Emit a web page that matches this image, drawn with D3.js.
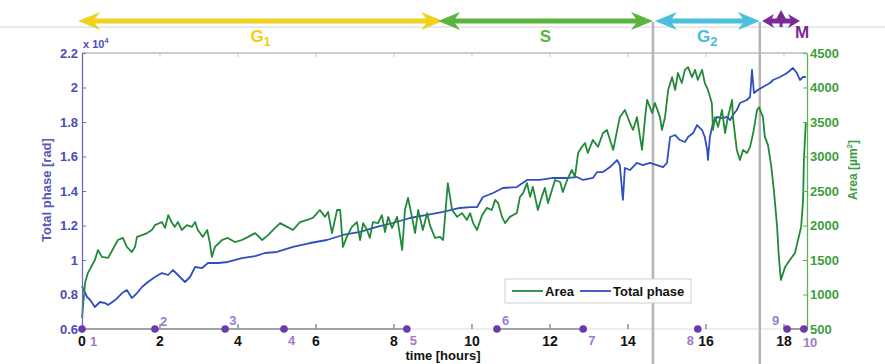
<!DOCTYPE html>
<html>
<head>
<meta charset="utf-8">
<script src="https://cdn.jsdelivr.net/npm/d3@7/dist/d3.min.js"></script>
<style>
  body { margin: 0; background: #fff; }
  text { font-family: "Liberation Sans", Arial, sans-serif; }
</style>
</head>
<body>
<svg id="chart" width="885" height="364"></svg>
<script>
// time [hours] / area [um^2]
const areaTime = [
  0,0.08,0.15,0.33,0.41,0.51,0.67,0.92,1.05,1.15,
  1.28,1.36,1.41,1.54,1.67,1.79,1.87,2.05,2.13,2.21,
  2.31,2.38,2.46,2.56,2.69,2.82,2.90,2.97,3.10,3.21,
  3.28,3.33,3.41,3.59,3.74,3.92,4.10,4.26,4.44,4.62,
  4.77,4.90,5.08,5.26,5.41,5.59,5.77,5.92,6.10,6.23,
  6.31,6.41,6.54,6.62,6.69,6.79,6.92,7.05,7.13,7.21,
  7.31,7.38,7.46,7.59,7.69,7.77,7.85,7.95,8.08,8.21,
  8.28,8.36,8.46,8.54,8.62,8.74,8.85,8.92,9.05,9.18,
  9.26,9.38,9.49,9.62,9.74,9.87,9.95,10.03,10.13,10.26,
  10.38,10.51,10.59,10.67,10.77,10.85,10.97,11.15,11.23,11.31,
  11.41,11.49,11.56,11.69,11.79,11.87,11.95,12.05,12.13,12.26,
  12.33,12.44,12.56,12.64,12.72,12.82,12.90,12.97,13.10,13.23,
  13.36,13.46,13.62,13.79,13.92,14.05,14.13,14.23,14.36,14.44,
  14.49,14.62,14.69,14.82,14.87,14.95,15.03,15.13,15.21,15.28,
  15.38,15.46,15.54,15.64,15.72,15.79,15.90,15.97,16.05,16.15,
  16.18,16.23,16.31,16.41,16.49,16.56,16.67,16.69,16.79,16.87,
  16.95,17.05,17.13,17.21,17.31,17.36,17.46,17.51,17.59,17.67,
  17.74,17.82,17.87,17.92,18.03,18.15,18.28,18.36,18.44,18.49,
  18.51,18.56
];
const areaValues = [
  660,1170,1310,1500,1645,1545,1530,1790,1820,1690,
  1615,1690,1835,1860,1890,1935,2005,2050,1965,2150,
  2035,1980,2050,1935,2005,1980,2050,1935,1835,1935,
  1745,1545,1690,1790,1820,1760,1790,1835,1890,1790,
  1860,1935,2035,1980,1935,2050,2080,2110,2225,2125,
  2195,1890,2225,2225,1690,1835,1980,2050,1790,2035,
  1935,1820,2050,2035,2150,1905,2125,1965,2125,1645,
  2225,2400,2125,1890,2225,1935,2180,2005,1820,1835,
  1790,2615,2225,2125,2180,2080,2180,2035,1935,2150,
  2255,2225,2370,2325,2125,2035,2125,2180,2415,2470,
  2615,2415,2560,2225,2415,2545,2325,2515,2660,2630,
  2485,2660,2805,2705,3050,3140,3195,3050,3240,3140,
  3340,3385,3095,3570,3675,3485,3385,3570,3095,3570,
  3820,3630,3775,3570,3385,3570,3965,4150,3965,4210,
  4065,4255,4295,4150,4255,4110,4255,4065,3965,3775,
  3385,3570,3430,3675,3340,3570,3820,3570,3095,2950,
  3095,3050,3140,3340,3675,3715,3570,3285,3165,2875,
  2515,2005,1530,1210,1400,1500,1600,1790,1980,2370,
  2950,3500
];

// time [hours] / total phase [rad]
const phaseTime = [
  0,0.13,0.21,0.33,0.46,0.59,0.67,0.85,1.03,1.15,
  1.28,1.41,1.54,1.69,1.87,2.05,2.21,2.33,2.46,2.64,
  2.77,2.90,3.08,3.23,3.49,3.74,4.10,4.44,4.69,5.00,
  5.41,5.85,6.28,6.69,7.13,7.56,7.97,8.41,8.85,9.26,
  9.69,9.95,10.13,10.28,10.54,10.79,11.15,11.41,11.74,12.08,
  12.44,12.69,12.85,13.10,13.21,13.36,13.54,13.72,13.79,13.87,
  13.92,14.05,14.23,14.38,14.56,14.74,14.90,15.00,15.08,15.21,
  15.33,15.46,15.54,15.67,15.77,15.90,15.97,16.03,16.05,16.10,
  16.18,16.28,16.41,16.54,16.62,16.69,16.79,16.87,17.05,17.13,
  17.18,17.23,17.33,17.46,17.64,17.72,17.90,18.08,18.23,18.33,
  18.41,18.49,18.56
];
const phaseValues = [
  8490,7855,7680,7275,7565,7505,7390,7680,8085,8260,
  7795,8085,8435,8725,9015,9245,9130,9420,9130,8725,
  9015,9595,9535,9825,9825,9885,10115,10230,10405,10465,
  10755,10985,11160,11450,11625,11915,12145,12435,12610,12785,
  13015,13070,13070,13650,13885,14175,14230,14640,14640,14755,
  14755,14810,14640,14755,15100,15100,15390,15795,15505,13480,
  15335,15215,15625,15505,15625,15505,15390,15625,17130,17245,
  16955,16840,17130,17360,17825,17535,17130,16375,15795,17130,
  17940,18290,18230,18290,18115,18405,18695,19100,19275,19450,
  21015,19680,19855,20030,20260,20435,20610,20840,21130,20840,
  20435,20610,20610
];

// tick values
const timeTicks = [0, 2, 4, 6, 8, 10, 12, 14, 16, 18];
const phaseTicks = [6000, 8000, 10000, 12000, 14000, 16000, 18000, 20000, 22000];
const areaTicks = [500, 1000, 1500, 2000, 2500, 3000, 3500, 4000, 4500];

// cell cycle phases (arrows on top)
const cycleNames = ["G", "S", "G", "M"];
const cycleSubs = ["1", "", "2", ""];
const cycleStart = [-0.1, 9.13, 14.69, 17.44];
const cycleEnd = [9.26, 14.64, 17.38, 18.41];
const cycleBorders = [14.64, 17.38];

// numbered time points
const markerTime = [0, 1.87, 3.67, 5.18, 8.33, 10.64, 12.85, 15.79, 18.08, 18.51];
const markerLabels = ["1", "2", "3", "4", "5", "6", "7", "8", "9", "10"];

const svg = d3.select("#chart");
const W = 885, H = 364;
const plotL = 82, plotR = 807, plotT = 53, plotB = 329;

const green = "#23893a", blue = "#2f4fc0", purple = "#6c3aa8";
const cycleColors = ["#efd21e", "#5bb43c", "#4bc0da", "#7a2a96"];
const cycleText = ["#f0cf10", "#5bb43c", "#45bddb", "#7a2a96"];

const x = d3.scaleLinear().domain([0, 18.59]).range([plotL, plotR]);
const yL = d3.scaleLinear().domain([6000, 22000]).range([plotB, plotT]);
const yR = d3.scaleLinear().domain([500, 4500]).range([plotB, plotT]);

svg.append("rect").attr("width", W).attr("height", H).attr("fill", "#fff");

// thin gray line behind the arrows
svg.append("line")
  .attr("x1", 0).attr("x2", W).attr("y1", 27).attr("y2", 27)
  .attr("stroke", "#d4d4d4").attr("stroke-width", 1.2);

// top frame with small ticks
svg.append("line")
  .attr("x1", plotL).attr("x2", plotR).attr("y1", plotT).attr("y2", plotT)
  .attr("stroke", "#bdbdbd").attr("stroke-width", 1.5);
svg.append("line")
  .attr("x1", plotL).attr("x2", plotR).attr("y1", plotB).attr("y2", plotB)
  .attr("stroke", "#dedede").attr("stroke-width", 1.2);
svg.selectAll(".topTick").data(timeTicks.slice(1)).enter().append("line")
  .attr("x1", d => x(d)).attr("x2", d => x(d))
  .attr("y1", plotT).attr("y2", plotT + 4)
  .attr("stroke", "#c8c8c8");

// phase borders
svg.selectAll(".border").data(cycleBorders).enter().append("line")
  .attr("x1", d => x(d)).attr("x2", d => x(d))
  .attr("y1", 22).attr("y2", H)
  .attr("stroke", "#b4b4b4").attr("stroke-width", 2.5);

// lines
const phaseLine = d3.line().x(d => x(d[0])).y(d => yL(d[1]));
const areaLine = d3.line().x(d => x(d[0])).y(d => yR(d[1]));

svg.append("path")
  .datum(d3.zip(phaseTime, phaseValues))
  .attr("d", phaseLine)
  .attr("fill", "none").attr("stroke", blue).attr("stroke-width", 1.8)
  .attr("stroke-linejoin", "round");

svg.append("path")
  .datum(d3.zip(areaTime, areaValues))
  .attr("d", areaLine)
  .attr("fill", "none").attr("stroke", green).attr("stroke-width", 1.8)
  .attr("stroke-linejoin", "round");

// left axis
const axL = svg.append("g")
  .attr("transform", "translate(" + plotL + ",0)")
  .call(d3.axisLeft(yL).tickValues(phaseTicks).tickFormat(d => d / 1e4)
    .tickSizeInner(-4).tickSizeOuter(0).tickPadding(4));
axL.select(".domain").attr("stroke", "#6a6ac4").attr("stroke-width", 1.3);
axL.selectAll(".tick line").attr("stroke", "#6a6ac4");
axL.selectAll(".tick text").attr("fill", "#4d4db0").attr("font-size", 13)
  .attr("font-weight", "bold");

// right axis
const axR = svg.append("g")
  .attr("transform", "translate(" + plotR + ",0)")
  .call(d3.axisRight(yR).tickValues(areaTicks).tickFormat(d3.format("d"))
    .tickSizeInner(-4).tickSizeOuter(0).tickPadding(3));
axR.select(".domain").attr("stroke", "#5ab45a").attr("stroke-width", 1.3);
axR.selectAll(".tick line").attr("stroke", "#5ab45a");
axR.selectAll(".tick text").attr("fill", "#3d9e3d").attr("font-size", 13)
  .attr("font-weight", "bold");

// bottom ticks & labels
svg.selectAll(".xTick").data(timeTicks.slice(1)).enter().append("line")
  .attr("x1", d => x(d)).attr("x2", d => x(d))
  .attr("y1", plotB).attr("y2", plotB - 5)
  .attr("stroke", "#555").attr("stroke-width", 1);
svg.selectAll(".xLab").data(timeTicks).enter().append("text")
  .attr("x", d => x(d)).attr("y", 346)
  .attr("text-anchor", "middle").attr("font-size", 14).attr("font-weight", "bold")
  .attr("fill", "#111").text(d => d);
svg.append("text")
  .attr("x", 443).attr("y", 360).attr("text-anchor", "middle")
  .attr("font-size", 13).attr("font-weight", "bold").attr("fill", "#111")
  .text("time [hours]");

// axis titles
svg.append("text")
  .attr("transform", "translate(51,190) rotate(-90)")
  .attr("text-anchor", "middle").attr("font-size", 13).attr("font-weight", "bold")
  .attr("fill", "#5757b5").text("Total phase [rad]");
const aTitle = svg.append("text")
  .attr("transform", "translate(857,170) rotate(-90)")
  .attr("text-anchor", "middle").attr("font-size", 12).attr("font-weight", "bold")
  .attr("fill", "#3d9e3d");
aTitle.append("tspan").text("Area  [\u00b5m");
aTitle.append("tspan").attr("font-size", 8).attr("dy", -5).text("2");
aTitle.append("tspan").attr("dy", 5).text("]");

// x 10^4
const mult = svg.append("text").attr("x", 83).attr("y", 48)
  .attr("font-size", 11).attr("font-weight", "bold").attr("fill", "#4d4db0");
mult.append("tspan").text("x 10");
mult.append("tspan").attr("font-size", 7).attr("dy", -5).text("4");

// numbered points along the time axis
const segs = [[0, 4], [5, 6], [8, 9]];
segs.forEach(s => {
  svg.append("line")
    .attr("x1", x(markerTime[s[0]])).attr("x2", x(markerTime[s[1]]))
    .attr("y1", plotB).attr("y2", plotB)
    .attr("stroke", "#8a8a8a").attr("stroke-width", 1.6);
});
const markOff = [[8, 17], [5, -3], [4, -4], [4, 16], [3, 16], [5, -4], [5, 16], [-11, 16], [-15, -4], [-1, 18]];
svg.selectAll(".mark").data(markerTime).enter().append("circle")
  .attr("cx", d => x(d)).attr("cy", plotB).attr("r", 3.8)
  .attr("fill", purple);
svg.selectAll(".markLab").data(markerTime).enter().append("text")
  .attr("x", (d, i) => x(d) + markOff[i][0])
  .attr("y", (d, i) => plotB + markOff[i][1])
  .attr("font-size", 13).attr("font-weight", "bold").attr("fill", "#a07ad0")
  .text((d, i) => markerLabels[i]);

// legend
const lg = svg.append("g");
lg.append("rect").attr("x", 505).attr("y", 279).attr("width", 186).attr("height", 24)
  .attr("fill", "#fff").attr("stroke", "#d0d0d0");
lg.append("line").attr("x1", 512).attr("x2", 543).attr("y1", 291).attr("y2", 291)
  .attr("stroke", green).attr("stroke-width", 1.8);
lg.append("text").attr("x", 545).attr("y", 296).attr("font-size", 13)
  .attr("font-weight", "bold").attr("fill", "#111").text("Area");
lg.append("line").attr("x1", 580).attr("x2", 611).attr("y1", 291).attr("y2", 291)
  .attr("stroke", blue).attr("stroke-width", 1.8);
lg.append("text").attr("x", 613).attr("y", 296).attr("font-size", 13)
  .attr("font-weight", "bold").attr("fill", "#111").text("Total phase");

// cell-cycle arrows
function dblArrow(x1, x2, y, col, L, h) {
  const p = d3.path();
  p.moveTo(x1, y); p.lineTo(x1 + L, y - h); p.lineTo(x1 + L * 0.7, y); p.lineTo(x1 + L, y + h); p.closePath();
  p.moveTo(x2, y); p.lineTo(x2 - L, y - h); p.lineTo(x2 - L * 0.7, y); p.lineTo(x2 - L, y + h); p.closePath();
  svg.append("line").attr("x1", x1 + L * 0.6).attr("x2", x2 - L * 0.6)
    .attr("y1", y).attr("y2", y).attr("stroke", col).attr("stroke-width", 5);
  svg.append("path").attr("d", p.toString()).attr("fill", col);
}
const arrowY = 21;
cycleNames.forEach((n, i) => {
  const x1 = x(cycleStart[i]), x2 = x(cycleEnd[i]);
  const small = i === 3;
  dblArrow(x1, x2, arrowY, cycleColors[i], small ? 12 : 22, small ? 7 : 9);
  const cx = small ? x2 + 2 : (x1 + x2) / 2;
  const t = svg.append("text")
    .attr("x", cx).attr("y", small ? 38 : 42)
    .attr("text-anchor", "middle").attr("font-size", 17).attr("font-weight", "bold")
    .attr("fill", cycleText[i]);
  t.append("tspan").text(n);
  if (cycleSubs[i]) t.append("tspan").attr("font-size", 13).attr("dy", 4).text(cycleSubs[i]);
});
// little upward head of the M arrow
const mMid = (x(cycleStart[3]) + x(cycleEnd[3])) / 2;
svg.append("path")
  .attr("d", "M" + mMid + ",10 L" + (mMid - 6) + "," + arrowY + " L" + (mMid + 6) + "," + arrowY + " Z")
  .attr("fill", cycleColors[3]);
svg.append("line").attr("x1", mMid).attr("x2", mMid).attr("y1", 14).attr("y2", 27)
  .attr("stroke", cycleColors[3]).attr("stroke-width", 3);
</script>
</body>
</html>
